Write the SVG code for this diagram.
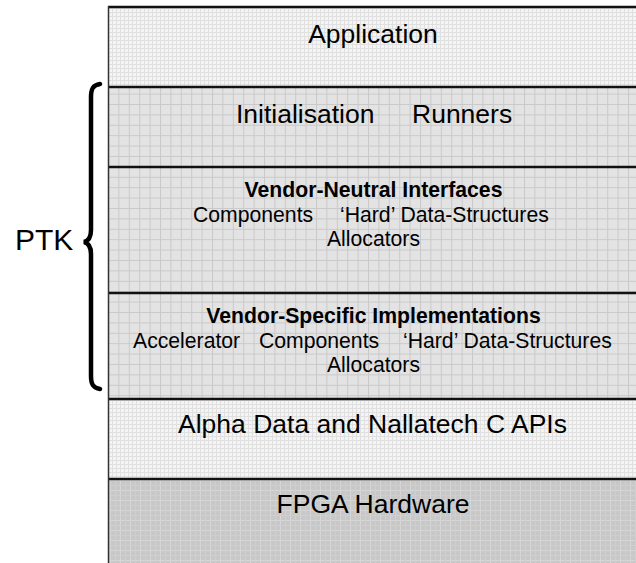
<svg xmlns="http://www.w3.org/2000/svg" width="636" height="563" viewBox="0 0 636 563">
<style>
  .t { font-family: "Liberation Sans", Arial, sans-serif; fill: #000; }
  .big { font-size: 26.5px; }
  .mid { font-size: 21.2px; }
  .b { font-weight: bold; }
  .sep { stroke: #111; stroke-width: 2.5; fill: none; }
</style>
<defs>
  <pattern id="light" width="4" height="4" patternUnits="userSpaceOnUse">
    <rect width="4" height="4" fill="#f4f4f4"/>
    <path d="M0 0.5H4M0.5 0V4" stroke="#e0e0e0" stroke-width="1"/>
  </pattern>
  <pattern id="mid" width="10.4" height="10.4" patternUnits="userSpaceOnUse" x="4" y="0">
    <rect width="10.4" height="10.4" fill="#e3e3e3"/>
    <path d="M0 0.5H10.4M0.5 0V10.4" stroke="#c9c9c9" stroke-width="1"/>
  </pattern>
  <pattern id="dark" width="10" height="10" patternUnits="userSpaceOnUse">
    <rect width="10" height="10" fill="#c8c8c8"/>
    <path d="M0 0.5H10M0.5 0V10" stroke="#d6d6d6" stroke-width="1"/>
    <path d="M0 5.5H10M5.5 0V10" stroke="#cfcfcf" stroke-width="1"/>
  </pattern>
</defs>
<rect width="636" height="563" fill="#ffffff"/>

<g id="layer-application">
  <rect x="108" y="7" width="528" height="80" fill="url(#light)"/>
  <text class="t big" x="373" y="43" text-anchor="middle">Application</text>
</g>
<g id="layer-init-runners">
  <rect x="108" y="87" width="528" height="80" fill="url(#mid)"/>
  <text class="t big" x="236" y="123">Initialisation</text>
  <text class="t big" x="412" y="123">Runners</text>
</g>
<g id="layer-vendor-neutral">
  <rect x="108" y="167" width="528" height="126" fill="url(#mid)"/>
  <text class="t mid b" x="373.5" y="197" text-anchor="middle">Vendor-Neutral Interfaces</text>
  <text class="t mid" x="193" y="222">Components</text>
  <text class="t mid" x="340" y="222">‘Hard’ Data-Structures</text>
  <text class="t mid" x="373.5" y="246" text-anchor="middle">Allocators</text>
</g>
<g id="layer-vendor-specific">
  <rect x="108" y="293" width="528" height="106" fill="url(#mid)"/>
  <text class="t mid b" x="373.5" y="323" text-anchor="middle">Vendor-Specific Implementations</text>
  <text class="t mid" x="133" y="348">Accelerator</text>
  <text class="t mid" x="259" y="348">Components</text>
  <text class="t mid" x="403" y="348">‘Hard’ Data-Structures</text>
  <text class="t mid" x="373.5" y="372" text-anchor="middle">Allocators</text>
</g>
<g id="layer-c-apis">
  <rect x="108" y="399" width="528" height="80" fill="url(#light)"/>
  <text class="t big" x="372.5" y="433" text-anchor="middle">Alpha Data and Nallatech C APIs</text>
</g>
<g id="layer-fpga">
  <rect x="108" y="479" width="528" height="84" fill="url(#dark)"/>
  <text class="t big" x="373" y="513" text-anchor="middle">FPGA Hardware</text>
</g>

<g id="connectors">
  <path class="sep" d="M108 7H636M108 87H636M108 167H636M108 293H636M108 399H636M108 479H636"/>
  <path d="M108.5 6V563" stroke="#333" stroke-width="1.5" fill="none"/>
</g>

<g id="ptk">
  <path d="M100 84 C93 85 91 89 91 97 V230 C91 237 88 241 84 242 C88 243 91 247 91 254 V376 C91 384 93 388 100 389" stroke="#000" stroke-width="4.5" fill="none" stroke-linecap="round"/>
  <text class="t" x="15" y="250" font-size="30">PTK</text>
</g>
</svg>
